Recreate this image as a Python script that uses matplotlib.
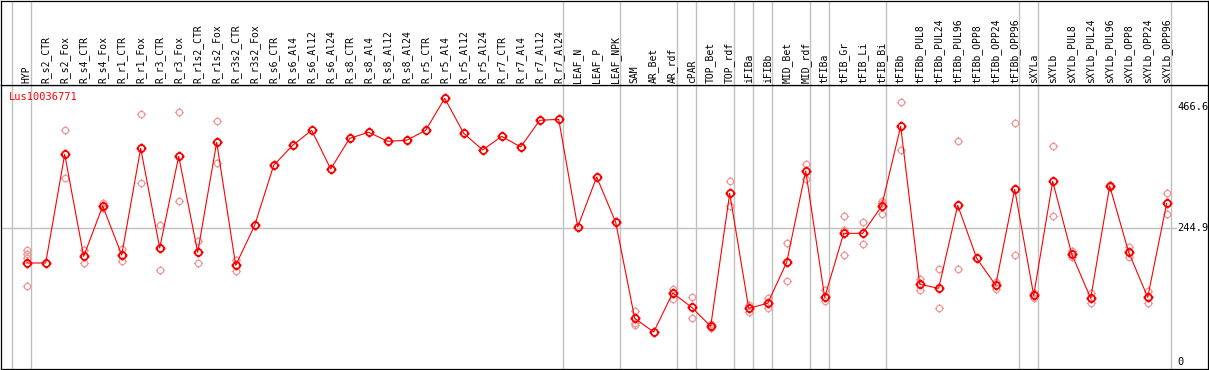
import matplotlib
matplotlib.use('Agg')
import matplotlib.pyplot as plt
from matplotlib.path import Path
import numpy as np

categories = [
    'HYP', 'R_s2_CTR', 'R_s2_Fox', 'R_s4_CTR', 'R_s4_Fox', 'R_r1_CTR', 'R_r1_Fox',
    'R_r3_CTR', 'R_r3_Fox', 'R_r1s2_CTR', 'R_r1s2_Fox', 'R_r3s2_CTR', 'R_r3s2_Fox',
    'R_s6_CTR', 'R_s6_Al4', 'R_s6_Al12', 'R_s6_Al24', 'R_s8_CTR', 'R_s8_Al4',
    'R_s8_Al12', 'R_s8_Al24', 'R_r5_CTR', 'R_r5_Al4', 'R_r5_Al12', 'R_r5_Al24',
    'R_r7_CTR', 'R_r7_Al4', 'R_r7_Al12', 'R_r7_Al24', 'LEAF_N', 'LEAF_P', 'LEAF_NPK',
    'SAM', 'AR_Bet', 'AR_rdf', 'cPAR', 'TOP_Bet', 'TOP_rdf', 'iFIBa', 'iFIBb',
    'MID_Bet', 'MID_rdf', 'tFIBa', 'tFIB_Gr', 'tFIB_Li', 'tFIB_Bi', 'tFIBb',
    'tFIBb_PUL8', 'tFIBb_PUL24', 'tFIBb_PUL96', 'tFIBb_OPP8', 'tFIBb_OPP24',
    'tFIBb_OPP96', 'sXYLa', 'sXYLb', 'sXYLb_PUL8', 'sXYLb_PUL24', 'sXYLb_PUL96',
    'sXYLb_OPP8', 'sXYLb_OPP24', 'sXYLb_OPP96',
]

means = [
    180.6, 180.6, 379.5, 192.8, 284.9, 195.2, 390.5, 208.0, 375.8, 200.2, 401.4,
    176.4, 249.6, 359.4, 396.0, 423.4, 352.6, 408.8, 419.8, 403.3, 405.1, 423.4,
    482.0, 417.9, 387.4, 412.4, 392.9, 441.7, 443.5, 246.5, 338.0, 255.0, 79.4,
    54.3, 125.7, 99.5, 64.8, 308.1, 97.7, 106.9, 181.9, 349.0, 117.8, 234.9,
    234.9, 284.9, 430.7, 141.6, 134.3, 286.2, 189.2, 139.8, 315.5, 121.5, 330.1,
    197.1, 116.0, 321.5, 200.2, 117.8, 289.8,
]

replicates = [
    [204.4, 197.1, 190.3, 138.0], [], [423.4, 335.6], [204.4, 181.2], [289.8, 281.8],
    [206.2, 184.3], [452.7, 326.4], [249.6, 167.2], [456.3, 294.0], [220.9, 180.6],
    [439.9, 364.2], [186.1, 166.5], [], [], [], [], [], [], [], [], [], [], [], [],
    [], [], [], [], [], [], [], [], [92.8, 71.4, 67.2], [], [133.0, 114.7],
    [117.8, 79.4], [69.0, 61.1], [330.1, 285.5], [103.2, 91.5], [116.0, 98.3],
    [216.6, 147.1], [361.8, 334.3], [131.2, 111.6], [266.6, 241.0, 195.2],
    [255.0, 214.8], [294.6, 291.0, 269.7], [474.7, 386.8], [151.3, 131.2],
    [169.1, 97.7], [403.8, 169.1], [], [146.4, 132.5], [436.2, 194.7],
    [126.3, 116.0], [394.7, 266.6], [203.1, 192.1], [125.2, 108.0], [323.3, 319.1],
    [210.4, 191.0], [129.4, 106.9], [308.1, 269.7],
]

# index of the last category in each group (separator drawn just after it)
group_ends = [-1, 0, 28, 31, 34, 35, 37, 38, 39, 41, 42, 45, 52, 53, 60]

gene = 'Lus10036771'
y_ticks = [466.6, 244.9, 0]
ref_line = 244.9

W, H = 1209, 370
GRID = '#c0c0c0'
PINK = '#f09898'


def tick_circle():
    """Circle with four short ticks sticking out, like the old applet markers."""
    circ = Path.unit_circle()
    r0, r1 = 1.0, 1.45
    verts = [(0, r0), (0, r1), (0, -r0), (0, -r1), (r0, 0), (r1, 0), (-r0, 0), (-r1, 0)]
    codes = [Path.MOVETO, Path.LINETO] * 4
    ticks = Path(verts, codes)
    return Path.make_compound_path(circ, ticks)


marker = tick_circle()

fig = plt.figure(figsize=(W / 100, H / 100), dpi=100)

# pixel -> index mapping: x_px = 26.7 + 19 * i
x0, dx = 26.7, 19.0
left_px, right_px = 1, 1208
xlim = ((left_px - x0) / dx, (right_px - x0) / dx)

top_px, bot_px = 85, 369
ax = fig.add_axes([left_px / W, (H - bot_px) / H, (right_px - left_px) / W, (bot_px - top_px) / H])
hdr = fig.add_axes([left_px / W, (H - top_px) / H, (right_px - left_px) / W, (top_px - 0.5) / H])

# value -> pixel: y_px = 361.7 - 0.5465 * v
ax.set_xlim(*xlim)
ax.set_ylim((361.7 - bot_px) / 0.5465, (361.7 - top_px) / 0.5465)
hdr.set_xlim(*xlim)
hdr.set_ylim(0, 1)

for a in (ax, hdr):
    a.set_xticks([])
    a.set_yticks([])
    for s in a.spines.values():
        s.set_color('black')
        s.set_linewidth(0.9)

for g in group_ends:
    for a in (ax, hdr):
        a.axvline(g + 4 / 19, color=GRID, lw=1.0, zorder=1)

ax.hlines(ref_line, xlim[0], (1177 - x0) / dx, color=GRID, lw=1.0, zorder=1)

x = np.arange(len(categories))

for i, reps in enumerate(replicates):
    if reps:
        ax.plot([i] * len(reps), reps, linestyle='none', marker=marker, markersize=6.6,
                markerfacecolor='none', markeredgecolor=PINK, markeredgewidth=0.9, zorder=2)

ax.plot(x, means, color='red', lw=0.8, zorder=3)
ax.plot(x, means, linestyle='none', marker=marker, markersize=7.2,
        markerfacecolor='none', markeredgecolor='red', markeredgewidth=1.3, zorder=4)

for v in y_ticks:
    ax.text((1177 - x0) / dx, v, f'{v:g}' if v == 0 else f'{v:.1f}', ha='left', va='center',
            fontsize=7.5, family='DejaVu Sans Mono', clip_on=True)

for i, name in enumerate(categories):
    hdr.text(i, 2 / 85, name, rotation=90, ha='center', va='bottom',
             fontsize=7, family='DejaVu Sans Mono')

fig.text(9 / W, 1 - 96.7 / H, gene, color='red', ha='left', va='center',
         fontsize=7.5, family='DejaVu Sans Mono')

fig.savefig('out.png', dpi=100)
